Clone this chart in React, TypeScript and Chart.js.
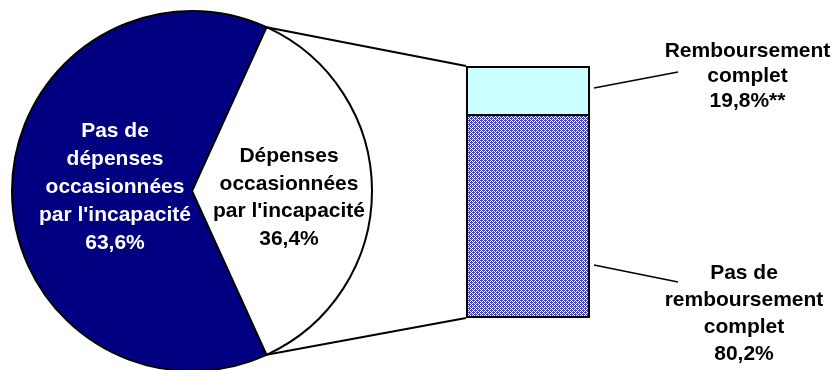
import React, { useEffect, useRef } from 'react';
import { Chart, registerables } from 'chart.js';

Chart.register(...registerables);

const W = 836;
const H = 370;

// ---- Pie data ----
const pieCategories = ["Pas de dépenses occasionnées par l'incapacité", "Dépenses occasionnées par l'incapacité"];
const pieLabelLines = [
  ['Pas de', 'dépenses', 'occasionnées', "par l'incapacité"],
  ['Dépenses', 'occasionnées', "par l'incapacité"],
];
const pieValues = [63.6, 36.4];
const pieColors = ['#000080', '#FFFFFF'];
const pieTextColors = ['#FFFFFF', '#000000'];

// ---- Bar (breakdown of the second slice) data ----
const barCategories = ["Dépenses occasionnées par l'incapacité"];
const barSeriesNames = ['Pas de remboursement complet', 'Remboursement complet'];
const barLabelLines = [
  ['Pas de', 'remboursement', 'complet'],
  ['Remboursement', 'complet'],
];
const barValues = [80.2, 19.8];
const barValueSuffix = ['', '**'];

const fmt = (v: number) => v.toFixed(1).replace('.', ',') + '%';
const FONT = 'bold 21px "Liberation Sans", Arial, sans-serif';

function drawLines(ctx: CanvasRenderingContext2D, lines: string[], cx: number, cy: number, lh: number, color: string) {
  ctx.save();
  ctx.font = FONT;
  ctx.fillStyle = color;
  ctx.textAlign = 'center';
  ctx.textBaseline = 'alphabetic';
  const n = lines.length;
  lines.forEach((t, i) => ctx.fillText(t, cx, cy - ((n - 1) * lh) / 2 + i * lh + 7.5));
  ctx.restore();
}

function makePattern(): CanvasPattern | string {
  const tile = document.createElement('canvas');
  tile.width = 4;
  tile.height = 4;
  const c = tile.getContext('2d');
  if (!c) return '#8080c0';
  c.fillStyle = '#FFFFFF';
  c.fillRect(0, 0, 4, 4);
  c.fillStyle = '#4444AA';
  const cells = [
    [0, 0], [2, 0],
    [1, 1], [3, 1],
    [0, 2], [2, 2],
    [1, 3], [3, 3],
    [1, 0], [3, 2],
  ];
  cells.forEach(([x, y]) => c.fillRect(x, y, 1, 1));
  const p = c.createPattern(tile, 'repeat');
  return p || '#8080c0';
}

export default function App() {
  const pieRef = useRef<HTMLCanvasElement | null>(null);
  const barRef = useRef<HTMLCanvasElement | null>(null);

  useEffect(() => {
    if (!pieRef.current || !barRef.current) return;

    const total = pieValues.reduce((a, b) => a + b, 0);
    const secondShare = pieValues[1] / total;

    const pieLabelPlugin = {
      id: 'pieLabels',
      afterDatasetsDraw(chart: any) {
        const ctx = chart.ctx as CanvasRenderingContext2D;
        const meta = chart.getDatasetMeta(0);
        const a0 = meta.data[0] as any;
        const cx = a0.x;
        const cy = a0.y;
        const offsets = [
          [-77, -6, 28],
          [97, 5, 27.5],
        ];
        pieValues.forEach((v, i) => {
          const [dx, dy, lh] = offsets[i];
          drawLines(ctx, [...pieLabelLines[i], fmt(v)], cx + dx, cy + dy, lh, pieTextColors[i]);
        });
      },
    };

    const pieChart = new Chart(pieRef.current, {
      type: 'pie',
      data: {
        labels: pieCategories,
        datasets: [
          {
            data: pieValues,
            backgroundColor: pieColors,
            borderColor: '#000000',
            borderWidth: 2,
            hoverOffset: 0,
          },
        ],
      },
      options: {
        responsive: false,
        animation: false,
        rotation: 90 + secondShare * 180,
        layout: { padding: { left: 11, top: 10, right: W - 11 - 362, bottom: 380 - 10 - 362 } },
        plugins: { legend: { display: false }, tooltip: { enabled: false } },
        events: [],
      },
      plugins: [pieLabelPlugin],
    });

    const connectorPlugin = {
      id: 'connectors',
      afterDatasetsDraw(chart: any) {
        const ctx = chart.ctx as CanvasRenderingContext2D;
        const pieMeta = pieChart.getDatasetMeta(0);
        const arc = pieMeta.data[1] as any;
        const R = arc.outerRadius;
        const p1 = { x: arc.x + R * Math.cos(arc.startAngle), y: arc.y + R * Math.sin(arc.startAngle) };
        const p2 = { x: arc.x + R * Math.cos(arc.endAngle), y: arc.y + R * Math.sin(arc.endAngle) };
        const bottomEl = chart.getDatasetMeta(0).data[0] as any;
        const topEl = chart.getDatasetMeta(1).data[0] as any;
        const left = topEl.x - topEl.width / 2;
        const right = topEl.x + topEl.width / 2;
        const top = topEl.y;
        const base = bottomEl.base;

        ctx.save();
        ctx.strokeStyle = '#000000';
        ctx.lineWidth = 2;
        ctx.beginPath();
        ctx.moveTo(p1.x, p1.y);
        ctx.lineTo(left, top);
        ctx.moveTo(p2.x, p2.y);
        ctx.lineTo(left, base);
        ctx.stroke();

        // leader lines
        ctx.lineWidth = 1.5;
        ctx.beginPath();
        ctx.moveTo(right + 4, top + 22);
        ctx.lineTo(right + 88, top + 6);
        ctx.moveTo(right + 4, base - 53);
        ctx.lineTo(right + 88, base - 36);
        ctx.stroke();
        ctx.restore();

        // labels
        drawLines(ctx, [...barLabelLines[1], fmt(barValues[1]) + barValueSuffix[1]], right + 157.5, top + 8.2, 25, '#000000');
        drawLines(ctx, [...barLabelLines[0], fmt(barValues[0]) + barValueSuffix[0]], right + 154, base - 5.8, 27, '#000000');
      },
    };

    const pattern = makePattern();

    const barChart = new Chart(barRef.current, {
      type: 'bar',
      data: {
        labels: barCategories,
        datasets: [
          {
            label: barSeriesNames[0],
            data: [barValues[0]],
            backgroundColor: pattern as any,
            borderColor: '#000000',
            borderWidth: { top: 0, left: 2, right: 2, bottom: 2 } as any,
            borderSkipped: false,
            inflateAmount: 0,
            barPercentage: 1,
            categoryPercentage: 1,
          },
          {
            label: barSeriesNames[1],
            data: [barValues[1]],
            backgroundColor: '#CCFFFF',
            borderColor: '#000000',
            borderWidth: 2,
            borderSkipped: false,
            inflateAmount: 0,
            barPercentage: 1,
            categoryPercentage: 1,
          },
        ],
      },
      options: {
        responsive: false,
        animation: false,
        layout: { padding: { left: 466, right: W - 590, top: 66, bottom: H - 318 } },
        scales: {
          x: { stacked: true, display: false },
          y: { stacked: true, display: false, min: 0, max: 100 },
        },
        plugins: { legend: { display: false }, tooltip: { enabled: false } },
        events: [],
      },
      plugins: [connectorPlugin],
    });

    return () => {
      barChart.destroy();
      pieChart.destroy();
    };
  }, []);

  return (
    <div style={{ position: 'absolute', left: 0, top: 0, width: W, height: H, overflow: 'hidden', background: '#FFFFFF' }}>
      <canvas ref={pieRef} width={W} height={380} style={{ position: 'absolute', left: 0, top: 0, display: 'block' }} />
      <canvas ref={barRef} width={W} height={H} style={{ position: 'absolute', left: 0, top: 0, display: 'block' }} />
    </div>
  );
}
